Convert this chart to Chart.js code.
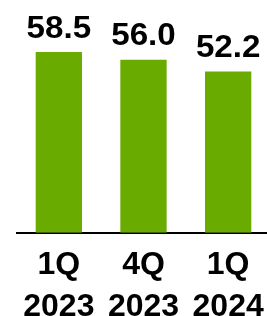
<!DOCTYPE html>
<html><head><meta charset="utf-8">
<script src="https://cdn.jsdelivr.net/npm/chart.js@4"></script>
<style>
html,body{margin:0;padding:0;background:#fff;overflow:hidden;width:267px;height:316px;}
#wrap{position:relative;width:276px;height:340px;}
</style></head>
<body>
<div id="wrap"><canvas id="c" width="276" height="340"></canvas></div>
<script>
const categories = [["1Q","2023"],["4Q","2023"],["1Q","2024"]];
const values = [58.5, 56.0, 52.2];
const valueLabels = ["58.5","56.0","52.2"];

const topLabels = {
  id:'topLabels',
  afterDatasetsDraw(chart){
    const ctx = chart.ctx;
    const meta = chart.getDatasetMeta(0);
    meta.data.forEach((bar,i)=>{
      ctx.save();
      ctx.font = 'bold 31px "Liberation Sans", Arial, sans-serif';
      ctx.fillStyle = '#000';
      ctx.textAlign = 'center';
      ctx.textBaseline = 'alphabetic';
      ctx.translate(bar.x, bar.y - 14.3);
      ctx.scale(1.07, 1);
      ctx.fillText(valueLabels[i], 0, 0);
      ctx.restore();
    });
  }
};

new Chart(document.getElementById('c'), {
  type:'bar',
  data:{labels:categories, datasets:[{data:values, backgroundColor:'#6aab00', borderWidth:0,
    categoryPercentage:1, barPercentage:0.547}]},
  options:{
    responsive:false, animation:false, devicePixelRatio:1,
    layout:{padding:{left:16.5, right:1.5, top:1, bottom:0}},
    plugins:{legend:{display:false}, tooltip:{enabled:false}},
    scales:{
      y:{display:false, min:0, max:75},
      x:{
        grid:{display:false, drawTicks:false},
        border:{display:true, color:'#000', width:2},
        ticks:{color:'#000', padding:12, maxRotation:0,
          font:{family:'"Liberation Sans", Arial, sans-serif', size:32, weight:'bold', lineHeight:1.3}}
      }
    }
  },
  plugins:[topLabels]
});
</script>
</body></html>
